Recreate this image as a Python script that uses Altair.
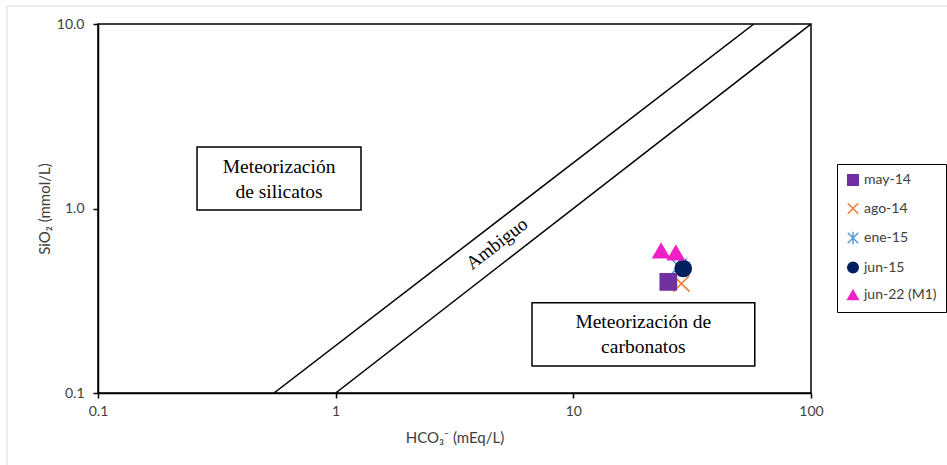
import altair as alt
import pandas as pd

# Sample data
series = ["may-14", "ago-14", "ene-15", "jun-15", "jun-22 (M1)", "jun-22 (M1)"]
hco3 = [25.1, 28.5, 27.8, 29.0, 23.4, 27.0]
sio2 = [0.40, 0.392, 0.485, 0.473, 0.59, 0.575]

legend_order = ["may-14", "ago-14", "ene-15", "jun-15", "jun-22 (M1)"]
colors = ["#7030A0", "#ED7D31", "#5B9BD5", "#002060", "#F020C8"]
shapes = ["square", "M-1,-1L1,1M1,-1L-1,1",
          "M-1,-1L1,1M1,-1L-1,1M0,-1.2L0,1.2", "circle", "triangle-up"]

# Boundary lines (HCO3 vs SiO2)
line_id = ["ratio5", "ratio5", "ratio10", "ratio10"]
line_x = [0.55, 57.5, 1.0, 100.0]
line_y = [0.1, 10.0, 0.1, 10.0]

# Annotation boxes
box_x = [0.261, 6.70]
box_x2 = [1.278, 58.0]
box_y = [2.154, 0.308]
box_y2 = [0.982, 0.140]
box_text = ["Meteorización\nde silicatos", "Meteorización de\ncarbonatos"]
box_cx = [0.578, 19.7]
box_cy = [1.454, 0.2077]

amb_label = ["Ambiguo"]
amb_x = [4.77]
amb_y = [0.645]

x_ticks = [0.1, 1, 10, 100]
y_ticks = [0.1, 1, 10]

pts = pd.DataFrame({"serie": series, "hco3": hco3, "sio2": sio2})
lines = pd.DataFrame({"id": line_id, "hco3": line_x, "sio2": line_y})
boxes = pd.DataFrame({"x": box_x, "x2": box_x2, "y": box_y, "y2": box_y2,
                      "t": box_text, "cx": box_cx, "cy": box_cy})
amb = pd.DataFrame({"t": amb_label, "x": amb_x, "y": amb_y})

xs = alt.Scale(type="log", domain=[0.1, 100], nice=False)
ys = alt.Scale(type="log", domain=[0.1, 10], nice=False)

FONT = "Lato"
SERIF = "Liberation Serif"

x_axis = alt.Axis(values=x_ticks, title="HCO₃⁻ (mEq/L)",
                  labelExpr="datum.value < 1 ? format(datum.value, '.1f') : format(datum.value, 'd')",
                  grid=False, tickSize=5, labelPadding=6, titlePadding=12, labelFlush=False,
                  labelFont=FONT, titleFont=FONT, labelFontSize=14, titleFontSize=15,
                  titleFontWeight="normal", labelColor="#404040", titleColor="#404040",
                  domainColor="black", tickColor="black", domainWidth=1.5, tickWidth=1.5,
                  zindex=2)
y_axis = alt.Axis(values=y_ticks, title="SiO₂ (mmol/L)", format=".1f",
                  grid=False, tickSize=5, labelPadding=9, titlePadding=4, labelFlush=False,
                  labelFont=FONT, titleFont=FONT, labelFontSize=14, titleFontSize=15,
                  titleFontWeight="normal", labelColor="#404040", titleColor="#404040",
                  domainColor="black", tickColor="black", domainWidth=1.5, tickWidth=1.5,
                  zindex=2)

frame = alt.Chart(pd.DataFrame({"a": [0]})).mark_rect(
    fillOpacity=0, stroke="#d9d9d9", strokeWidth=1
).encode(x=alt.value(-91), x2=alt.value(870), y=alt.value(-18), y2=alt.value(460))

line_layer = alt.Chart(lines).mark_line(color="black", strokeWidth=1.5, clip=True).encode(
    x=alt.X("hco3:Q", scale=xs, axis=x_axis),
    y=alt.Y("sio2:Q", scale=ys, axis=y_axis),
    detail="id:N",
)

box_layer = alt.Chart(boxes).mark_rect(fill="white", stroke="black", strokeWidth=1.5).encode(
    x=alt.X("x:Q", scale=xs), x2="x2:Q",
    y=alt.Y("y:Q", scale=ys), y2="y2:Q",
)

box_text_layer = alt.Chart(boxes).mark_text(
    font=SERIF, fontSize=19.5, lineBreak="\n", lineHeight=25, color="black",
    baseline="middle", dy=-12
).encode(
    x=alt.X("cx:Q", scale=xs), y=alt.Y("cy:Q", scale=ys), text="t:N"
)

amb_layer = alt.Chart(amb).mark_text(
    font=SERIF, fontSize=19, angle=322.5, color="black", baseline="middle"
).encode(x=alt.X("x:Q", scale=xs), y=alt.Y("y:Q", scale=ys), text="t:N")

leg = alt.Legend(title=None, orient="none", legendX=739, legendY=140,
                 strokeColor="black", padding=9, rowPadding=10.5, symbolSize=110,
                 symbolStrokeWidth=1.5, labelFont=FONT, labelFontSize=14,
                 labelColor="#404040", cornerRadius=0, fillColor="white",
                 labelLimit=200)

pt_layer = alt.Chart(pts).mark_point(size=260, strokeWidth=1.6, opacity=1).encode(
    x=alt.X("hco3:Q", scale=xs),
    y=alt.Y("sio2:Q", scale=ys),
    fill=alt.Fill("serie:N", scale=alt.Scale(domain=legend_order, range=colors),
                  sort=legend_order, legend=leg),
    stroke=alt.Stroke("serie:N", scale=alt.Scale(domain=legend_order, range=colors),
                      sort=legend_order, legend=leg),
    shape=alt.Shape("serie:N", scale=alt.Scale(domain=legend_order, range=shapes),
                    sort=legend_order, legend=leg),
    order=alt.Order("serie:N"),
)

chart = alt.layer(frame, line_layer, box_layer, box_text_layer, amb_layer, pt_layer).properties(
    width=713, height=369,
    autosize=alt.AutoSizeParams(type="none"),
    padding={"left": 98, "top": 24, "right": 136, "bottom": 72},
    background="white",
).configure_view(stroke="black", strokeWidth=1.5)

chart.save("out.html", embed_options={"renderer": "svg", "actions": False})
